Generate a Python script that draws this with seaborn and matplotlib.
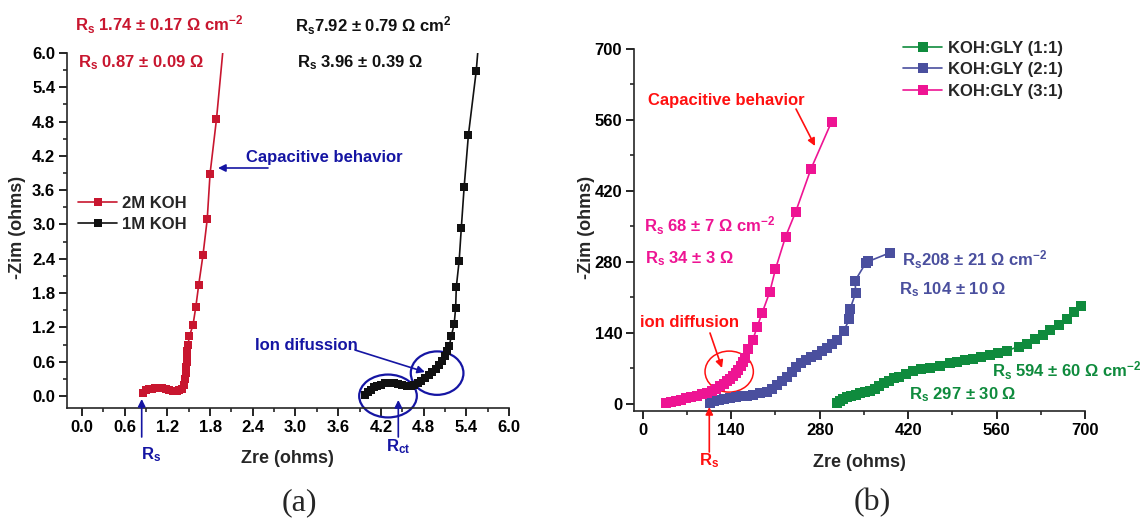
import matplotlib
matplotlib.use('Agg')
import matplotlib.pyplot as plt
import seaborn as sns
from matplotlib.patches import Ellipse, FancyArrowPatch
from matplotlib.ticker import AutoMinorLocator, FormatStrFormatter

# ---------------- data ----------------
koh2_zre = [0.86, 0.90, 0.94, 0.98, 1.03, 1.08, 1.13, 1.18, 1.23, 1.28, 1.33, 1.37, 1.40,
            1.43, 1.45, 1.46, 1.46, 1.47, 1.47, 1.48, 1.49, 1.51, 1.56, 1.60, 1.64, 1.70,
            1.76, 1.80, 1.89, 2.00]
koh2_zim = [0.06, 0.10, 0.12, 0.13, 0.14, 0.14, 0.14, 0.13, 0.11, 0.09, 0.09, 0.10, 0.13,
            0.20, 0.30, 0.40, 0.50, 0.60, 0.70, 0.79, 0.89, 1.05, 1.24, 1.56, 1.94, 2.46,
            3.09, 3.89, 4.84, 6.30]
koh1_zre = [3.98, 4.02, 4.06, 4.10, 4.15, 4.20, 4.26, 4.32, 4.38, 4.44, 4.50, 4.56, 4.62,
            4.67, 4.72, 4.77, 4.82, 4.87, 4.92, 4.97, 5.02, 5.06, 5.10, 5.13, 5.16, 5.19,
            5.23, 5.25, 5.26, 5.30, 5.33, 5.37, 5.43, 5.54, 5.58]
koh1_zim = [0.02, 0.07, 0.11, 0.15, 0.18, 0.20, 0.22, 0.22, 0.22, 0.21, 0.19, 0.18, 0.18,
            0.20, 0.23, 0.27, 0.31, 0.36, 0.42, 0.48, 0.55, 0.62, 0.70, 0.78, 0.87, 1.05,
            1.26, 1.54, 1.91, 2.37, 2.94, 3.66, 4.57, 5.69, 6.30]

gly11_zre = [307, 312, 317, 323, 330, 337, 344, 352, 360, 367, 374, 381, 389, 397, 405, 416,
             428, 441, 455, 470, 486, 497, 510, 523, 536, 550, 563, 576, 595, 608, 621, 634,
             645, 659, 672, 682, 694]
gly11_zim = [1, 5, 9, 13, 16, 18, 21, 23, 26, 30, 35, 41, 46, 51, 54, 59,
             64, 68, 70, 75, 80, 82, 86, 88, 92, 97, 101, 105, 113, 118, 128, 135,
             145, 156, 167, 182, 193]
gly21_zre = [106, 113, 121, 129, 138, 147, 156, 165, 175, 186, 196, 204, 212, 220, 228, 236,
             243, 251, 259, 267, 275, 284, 292, 300, 307, 318, 327, 328, 337, 336, 353, 357, 391]
gly21_zim = [2, 5, 7, 9, 11, 13, 15, 16, 18, 21, 24, 30, 37, 45, 54, 63,
             72, 80, 87, 92, 97, 104, 111, 118, 126, 144, 167, 187, 219, 243, 278, 281, 298]
gly31_zre = [37, 45, 53, 61, 69, 77, 85, 93, 101, 109, 116, 122, 128, 133, 138, 143, 147,
             151, 155, 158, 162, 167, 174, 181, 189, 201, 210, 226, 242, 266, 299]
gly31_zim = [2, 4, 6, 8, 11, 13, 16, 19, 22, 25, 30, 35, 40, 45, 50, 55, 61,
             67, 74, 82, 90, 108, 126, 152, 180, 221, 266, 330, 379, 463, 557]

left_ticks = [0.0, 0.6, 1.2, 1.8, 2.4, 3.0, 3.6, 4.2, 4.8, 5.4, 6.0]
right_ticks = [0, 140, 280, 420, 560, 700]
left_labels = ['2M KOH', '1M KOH']
right_labels = ['KOH:GLY (1:1)', 'KOH:GLY (2:1)', 'KOH:GLY (3:1)']

# ---------------- style ----------------
RED_L = '#C8162F'
BLACK = '#111111'
NAVY = '#1515A3'
GREEN = '#0F8B3D'
SLATE = '#4A4F9E'
MAGENTA = '#EE1493'
RED = '#FF1010'

sns.set_style('ticks')
plt.rcParams.update({
    'font.weight': 'bold',
    'axes.labelweight': 'bold',
    'mathtext.fontset': 'custom',
    'mathtext.rm': 'Liberation Sans:bold',
    'mathtext.it': 'Liberation Sans:bold',
    'mathtext.bf': 'Liberation Sans:bold',
    'mathtext.sf': 'Liberation Sans:bold',
    'mathtext.default': 'regular',
    'axes.linewidth': 1.2,
    'xtick.direction': 'out',
    'ytick.direction': 'out',
})
plt.rcParams['font.family'] = ['Liberation Sans', 'DejaVu Sans']

W, H = 1143, 524
fig = plt.figure(figsize=(W / 100, H / 100), dpi=100)


def rect(x0, y0, x1, y1):
    return [x0 / W, 1 - y1 / H, (x1 - x0) / W, (y1 - y0) / H]


axL = fig.add_axes(rect(67, 53, 509, 408))
axR = fig.add_axes(rect(634, 49, 1085, 411))

# ---------------- plots ----------------
common = dict(marker='s', markeredgewidth=0, linewidth=1.2, sort=False, estimator=None)
sns.lineplot(x=koh2_zre, y=koh2_zim, ax=axL, color=RED_L, markersize=5.8, label=left_labels[0], **common)
sns.lineplot(x=koh1_zre, y=koh1_zim, ax=axL, color=BLACK, markersize=5.8, label=left_labels[1], **common)

sns.lineplot(x=gly11_zre, y=gly11_zim, ax=axR, color=GREEN, markersize=6.6, label=right_labels[0], **common)
sns.lineplot(x=gly21_zre, y=gly21_zim, ax=axR, color=SLATE, markersize=6.6, label=right_labels[1], **common)
sns.lineplot(x=gly31_zre, y=gly31_zim, ax=axR, color=MAGENTA, markersize=6.6, label=right_labels[2], **common)

for ax in (axL, axR):
    sns.despine(ax=ax)
    ax.tick_params(which='major', length=5.5, width=1.2, labelsize=12, pad=3, colors='black')
    ax.tick_params(which='minor', length=3, width=1.2)
    ax.xaxis.set_minor_locator(AutoMinorLocator(2))
    ax.yaxis.set_minor_locator(AutoMinorLocator(2))

axL.set_xlim(-0.21, 6.0)
axL.set_ylim(-0.21, 6.0)
axL.set_xticks(left_ticks)
axL.set_yticks(left_ticks)
axL.xaxis.set_major_formatter(FormatStrFormatter('%.1f'))
axL.yaxis.set_major_formatter(FormatStrFormatter('%.1f'))

axR.set_xlim(-14, 700)
axR.set_ylim(-14, 700)
axR.set_xticks(right_ticks)
axR.set_yticks(right_ticks)

for ax in (axL, axR):
    for lab in ax.get_xticklabels() + ax.get_yticklabels():
        lab.set_fontweight('bold')
        lab.set_fontsize(12)

axL.set_xlabel('Zre (ohms)', fontsize=13, fontweight='bold')
axL.set_ylabel('-Zim (ohms)', fontsize=13, fontweight='bold')
axR.set_xlabel('Zre (ohms)', fontsize=13, fontweight='bold')
axR.set_ylabel('-Zim (ohms)', fontsize=13, fontweight='bold')
axL.xaxis.set_label_coords(0.499, -0.141)
axL.xaxis.label.set_va('center')
axL.yaxis.set_label_coords(-0.113, 0.51)
axL.yaxis.label.set_va('center')
axR.xaxis.set_label_coords(0.499, -0.141)
axR.xaxis.label.set_va('center')
axR.yaxis.set_label_coords(-0.105, 0.506)
axR.yaxis.label.set_va('center')

# legends
legL = axL.legend(loc='upper left', bbox_to_anchor=(78 / W, 1 - 196 / H), bbox_transform=fig.transFigure,
                  frameon=False, fontsize=12, borderpad=0, borderaxespad=0, handlelength=2.35,
                  handletextpad=0.3, labelspacing=0.35)
legR = axR.legend(loc='upper left', bbox_to_anchor=(903 / W, 1 - 41 / H), bbox_transform=fig.transFigure,
                  frameon=False, fontsize=12, borderpad=0, borderaxespad=0, handlelength=2.35,
                  handletextpad=0.35, labelspacing=0.38)
for leg in (legL, legR):
    for t in leg.get_texts():
        t.set_fontweight('bold')


# ---------------- annotations ----------------
def T(px, py, s, color, ha='left', va='baseline', size=12, **kw):
    fig.text(px / W, 1 - py / H, s, color=color, ha=ha, va=va, fontsize=size, fontweight='bold', **kw)


def arrow(x0, y0, x1, y1, color, lw=1.2, ms=11):
    fig.add_artist(FancyArrowPatch((x0 / W, 1 - y0 / H), (x1 / W, 1 - y1 / H), transform=fig.transFigure,
                                   arrowstyle='-|>', mutation_scale=ms, color=color, lw=lw,
                                   shrinkA=0, shrinkB=0))


# left panel
T(75, 31, r'R$_{s}$ 1.74 ± 0.17 Ω cm$^{-2}$', RED_L)
T(78, 67, r'R$_{s}$ 0.87 ± 0.09 Ω', RED_L)
T(295, 32, r'R$_{s}$7.92 ± 0.79 Ω cm$^{2}$', BLACK)
T(297, 67, r'R$_{s}$ 3.96 ± 0.39 Ω', BLACK)
T(246, 162, 'Capacitive behavior', NAVY)
arrow(268, 168, 218, 168, NAVY)
T(255, 350, 'Ion difussion', NAVY)
arrow(355, 350, 425, 372, NAVY)
T(141, 459, r'R$_{s}$', NAVY)
arrow(141.7, 437, 141.7, 399, NAVY)
T(386, 451, r'R$_{ct}$', NAVY)
arrow(398.3, 437, 398.3, 400, NAVY)
axL.add_patch(Ellipse((4.30, 0.0), 0.81, 0.75, fill=False, edgecolor=NAVY, lw=1.6, clip_on=False))
axL.add_patch(Ellipse((4.99, 0.40), 0.74, 0.76, fill=False, edgecolor=NAVY, lw=1.6, clip_on=False))

# right panel
T(648, 105, 'Capacitive behavior', RED)
arrow(796, 109, 815, 146, RED)
T(644, 232, r'R$_{s}$ 68 ± 7 Ω cm$^{-2}$', MAGENTA)
T(645, 263, r'R$_{s}$ 34 ± 3 Ω', MAGENTA)
T(902, 266, r'R$_{s}$208 ± 21 Ω cm$^{-2}$', SLATE)
T(899, 294, r'R$_{s}$ 104 ± 10 Ω', SLATE)
T(640, 327, 'ion diffusion', RED)
arrow(710, 333, 722, 368, RED)
axR.add_patch(Ellipse((136.7, 63.7), 76.5, 80.9, fill=False, edgecolor=RED, lw=1.1, clip_on=False))
T(992, 377, r'R$_{s}$ 594 ± 60 Ω cm$^{-2}$', GREEN)
T(909, 399, r'R$_{s}$ 297 ± 30 Ω', GREEN)
T(699, 465, r'R$_{s}$', RED)
arrow(709.3, 452, 709.3, 407, RED)

# panel labels
fig.text(299 / W, 1 - 503 / H, '(a)', ha='center', va='center', fontsize=23, fontweight='normal',
         family=['Liberation Serif', 'DejaVu Serif'])
fig.text(872 / W, 1 - 503 / H, '(b)', ha='center', va='center', fontsize=23, fontweight='normal',
         family=['Liberation Serif', 'DejaVu Serif'])

fig.savefig('out.png', dpi=100)
